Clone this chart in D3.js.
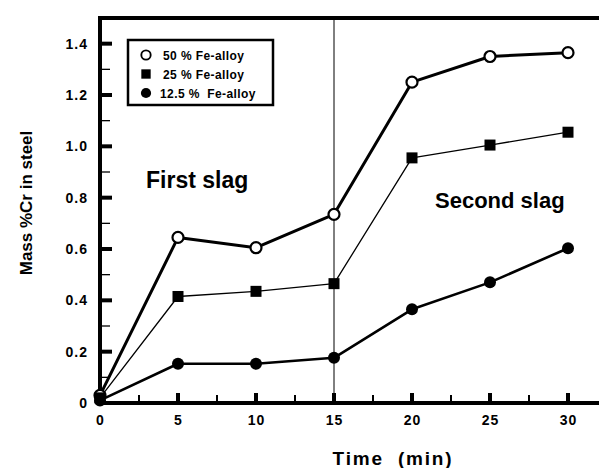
<!DOCTYPE html>
<html>
<head>
<meta charset="utf-8">
<script src="https://cdn.jsdelivr.net/npm/d3@7"></script>
<style>
  body { margin: 0; background: #fff; }
  svg { display: block; font-family: "Liberation Sans", Arial, sans-serif; font-weight: bold; }
  .axis path, .axis line { display: none; }
  .axis text { font-size: 14px; font-weight: bold; fill: #000; letter-spacing: 1px; }
</style>
</head>
<body>
<div class="container"></div>
<script>
const WIDTH = 599;
const HEIGHT = 468;

// time in minutes
var times = [0, 5, 10, 15, 20, 25, 30];
var fe50 = [0.03, 0.645, 0.605, 0.735, 1.25, 1.35, 1.365];
var fe25 = [0.02, 0.415, 0.435, 0.465, 0.955, 1.005, 1.055];
var fe125 = [0.01, 0.153, 0.153, 0.176, 0.365, 0.47, 0.603];
var seriesNames = ["50 % Fe-alloy", "25 % Fe-alloy", "12.5 %  Fe-alloy"];
var xTicks = [0, 5, 10, 15, 20, 25, 30];
var xMinor = [2.5, 7.5, 12.5, 17.5, 22.5, 27.5];
var yTicks = [0, 0.2, 0.4, 0.6, 0.8, 1.0, 1.2, 1.4];
var yMinor = [0.1, 0.3, 0.5, 0.7, 0.9, 1.1, 1.3];
var slagChange = 15;

var translate = function(x, y) {
    return `translate(${x},${y})`;
};

var svg = d3.select('.container').append('svg')
    .attr('width', WIDTH)
    .attr('height', HEIGHT);

var xScale = d3.scaleLinear().domain([0, 32]).range([100, 599.2]);
var yScale = d3.scaleLinear().domain([0, 1.5]).range([403, 18]);

var series = [
    {name: seriesNames[0], values: fe50, marker: 'openCircle', width: 3},
    {name: seriesNames[1], values: fe25, marker: 'square', width: 1.3},
    {name: seriesNames[2], values: fe125, marker: 'dot', width: 2.6}
];

var drawMarker = function(g, type) {
    if (type === 'square') {
        g.append('rect').attr('x', -5.5).attr('y', -5.5).attr('width', 11).attr('height', 11)
            .attr('fill', '#000');
    } else if (type === 'openCircle') {
        g.append('circle').attr('r', 5.5).attr('fill', '#fff')
            .attr('stroke', '#000').attr('stroke-width', 2.2);
    } else {
        g.append('circle').attr('r', 6).attr('fill', '#000');
    }
};

// slag change line
svg.append('line')
    .attr('x1', xScale(slagChange)).attr('x2', xScale(slagChange))
    .attr('y1', yScale(0)).attr('y2', yScale(1.5))
    .attr('stroke', '#000').attr('stroke-width', 1);

// axis labels from d3 axes, tick marks drawn by hand (inward)
svg.append('g').classed('axis', true)
    .attr('transform', translate(0, yScale(0)))
    .call(d3.axisBottom(xScale).tickValues(xTicks).tickSize(0).tickPadding(12)
        .tickFormat((d) => d));

svg.append('g').classed('axis', true)
    .attr('transform', translate(xScale(0), 0))
    .call(d3.axisLeft(yScale).tickValues(yTicks).tickSize(0).tickPadding(12)
        .tickFormat((d) => d === 0 ? '0' : d3.format('.1f')(d)));

var ticks = svg.append('g').attr('stroke', '#000');
ticks.selectAll('.xmaj').data(xTicks).enter().append('line')
    .attr('x1', (d) => xScale(d)).attr('x2', (d) => xScale(d))
    .attr('y1', yScale(0)).attr('y2', yScale(0) - 10)
    .attr('stroke-width', 4);
ticks.selectAll('.xmin').data(xMinor).enter().append('line')
    .attr('x1', (d) => xScale(d)).attr('x2', (d) => xScale(d))
    .attr('y1', yScale(0)).attr('y2', yScale(0) - 8)
    .attr('stroke-width', 2);
ticks.selectAll('.ymaj').data(yTicks).enter().append('line')
    .attr('x1', xScale(0)).attr('x2', xScale(0) + 12)
    .attr('y1', (d) => yScale(d)).attr('y2', (d) => yScale(d))
    .attr('stroke-width', 4);
ticks.selectAll('.ymin').data(yMinor).enter().append('line')
    .attr('x1', xScale(0)).attr('x2', xScale(0) + 10)
    .attr('y1', (d) => yScale(d)).attr('y2', (d) => yScale(d))
    .attr('stroke-width', 1.3);

// frame
svg.append('path')
    .attr('d', `M${xScale(32)},${yScale(1.5)}H${xScale(0)}V${yScale(0)}H${xScale(32)}`)
    .attr('fill', 'none').attr('stroke', '#000').attr('stroke-width', 4);

// lines and markers
var line = d3.line()
    .x((d, i) => xScale(times[i]))
    .y((d) => yScale(d));

series.forEach(function(s) {
    svg.append('path')
        .attr('d', line(s.values))
        .attr('fill', 'none').attr('stroke', '#000')
        .attr('stroke-width', s.width).attr('stroke-linejoin', 'round');
});
series.forEach(function(s) {
    s.values.forEach(function(v, i) {
        var g = svg.append('g').attr('transform', translate(xScale(times[i]), yScale(v)));
        drawMarker(g, s.marker);
    });
});

// legend
var legend = svg.append('g').attr('transform', translate(128, 40));
legend.append('rect').attr('width', 145).attr('height', 65)
    .attr('fill', '#fff').attr('stroke', '#000').attr('stroke-width', 2.5);
series.forEach(function(s, i) {
    var row = legend.append('g').attr('transform', translate(18, 15 + i * 19));
    var m = row.append('g').attr('transform', 'scale(0.85)');
    drawMarker(m, s.marker);
    row.append('text').attr('x', i === 2 ? 14 : 17).attr('y', 4.5)
        .attr('font-size', 12).attr('letter-spacing', 0.4)
        .attr('xml:space', 'preserve')
        .text(s.name);
});

// annotations
svg.append('text').attr('x', 146).attr('y', 188).attr('font-size', 23).text('First slag');
svg.append('text').attr('x', 435).attr('y', 208).attr('font-size', 22).text('Second slag');

// axis titles
svg.append('text')
    .attr('x', 393).attr('y', 465).attr('text-anchor', 'middle')
    .attr('font-size', 19).attr('letter-spacing', 1.8)
    .attr('xml:space', 'preserve')
    .text('Time  (min)');

svg.append('text')
    .attr('transform', translate(32, 203) + ' rotate(-90)')
    .attr('text-anchor', 'middle').attr('font-size', 17)
    .text('Mass %Cr in steel');
</script>
</body>
</html>
